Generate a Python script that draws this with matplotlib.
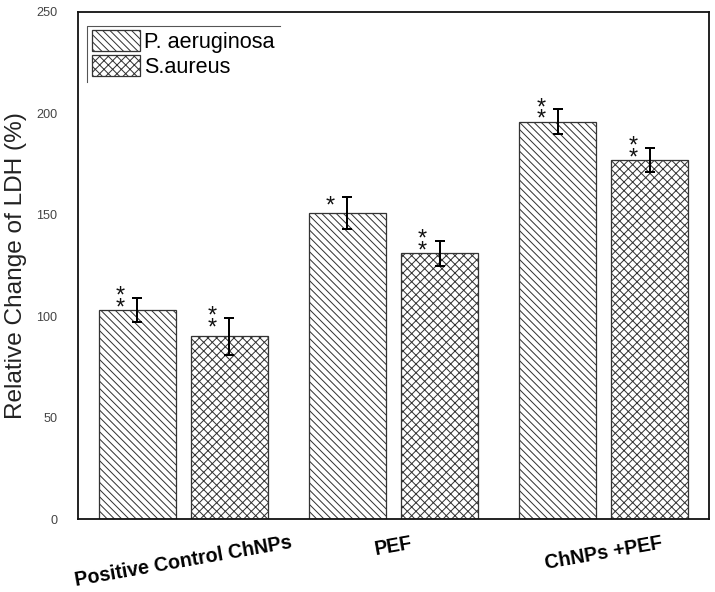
import matplotlib; matplotlib.use("Agg")
import matplotlib.pyplot as plt
import numpy as np

# LDH release, relative change (%) per treatment group
groups = ["Positive Control ChNPs", "PEF", "ChNPs +PEF"]
pa_vals = [103, 151, 196]; pa_err = [6, 8, 6]; pa_stars = ["**", "*", "**"]
sa_vals = [90, 131, 177]; sa_err = [9, 6, 6]; sa_stars = ["**", "**", "**"]
yticks = [0, 50, 100, 150, 200, 250]

DPI = 130
plt.rcParams["font.family"] = ["Liberation Sans", "DejaVu Sans"]
plt.rcParams["hatch.linewidth"] = 0.55
fig = plt.figure(figsize=(715 / DPI, 592 / DPI), dpi=DPI)
ax = fig.add_axes([78 / 715, 1 - 519 / 592, 631 / 715, 507 / 592])

x = np.arange(len(groups)); W = 0.367; OFF = 0.219
EK = dict(ecolor="black", elinewidth=1.1, capsize=3, capthick=1.1)
ax.bar(x - OFF, pa_vals, W, yerr=pa_err, color="white", edgecolor="#333", lw=0.7,
       hatch="\\" * 6, error_kw=EK, label="P. aeruginosa")
ax.bar(x + OFF, sa_vals, W, yerr=sa_err, color="white", edgecolor="#333", lw=0.7,
       hatch="xxxxx", error_kw=EK, label="S.aureus")

# significance asterisks, stacked left of each error bar
def stars(xs, vals, errs, marks):
    for xi, v, e, m in zip(xs, vals, errs, marks):
        txt = "\n".join(m)
        ax.annotate(txt, (xi, v + e), xytext=(-9.4, -9.0), textcoords="offset points",
                    ha="center", va="baseline", fontsize=13, color="#111",
                    linespacing=0.36, multialignment="center")
stars(x - OFF, pa_vals, pa_err, pa_stars)
stars(x + OFF, sa_vals, sa_err, sa_stars)

ax.set_xlim(-0.5, 2.5); ax.set_ylim(0, 250)
ax.set_yticks(yticks)
ax.set_xticks(x, groups, rotation=10, fontweight="bold", fontsize=10.9)
ax.tick_params(axis="y", length=0, labelsize=7, labelcolor="#444", pad=11.6)
ax.tick_params(axis="x", length=0, pad=8)
for s in ax.spines.values(): s.set_linewidth(1.0); s.set_color("#111")
ax.set_ylabel("Relative Change of LDH (%)", fontsize=13.5, color="#222")
ax.yaxis.set_label_coords(-0.081, 0.5)

ax.legend(loc="upper left", bbox_to_anchor=(0.0222, 0.9645), frameon=False, borderpad=0,
          borderaxespad=0, fontsize=12, handlelength=2.2, handleheight=1.1,
          labelspacing=0.1, handletextpad=0.22)
ax.plot([0.0143, 0.0143, 0.320], [0.862, 0.9724, 0.9724], transform=ax.transAxes,
        color="#555", lw=0.6, clip_on=False)

fig.savefig("out.png", dpi=DPI)
